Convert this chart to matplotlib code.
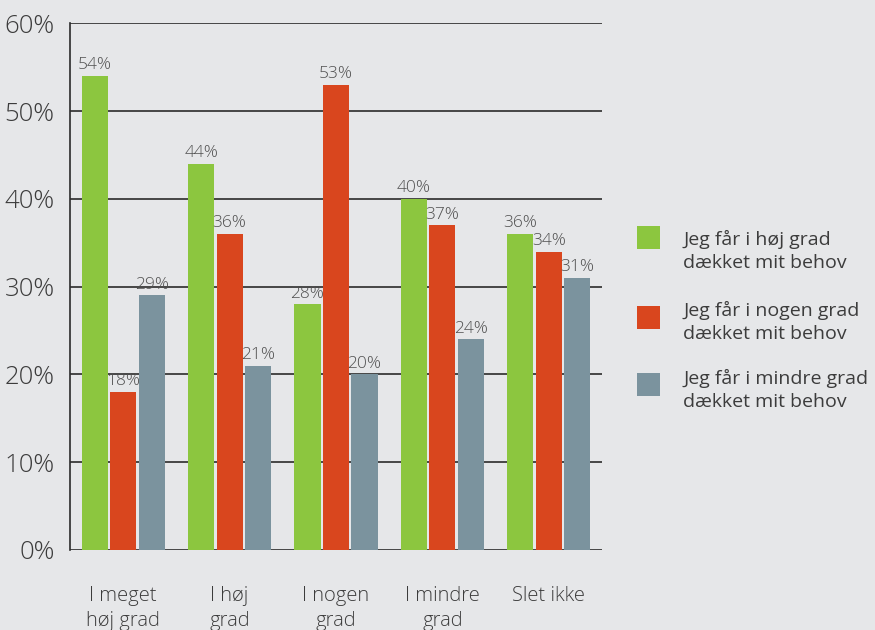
import numpy as np
import matplotlib
matplotlib.use("Agg")
import matplotlib.pyplot as plt
from matplotlib.patches import Rectangle

categories = ["I meget\nhøj grad", "I høj\ngrad", "I nogen\ngrad", "I mindre\ngrad", "Slet ikke"]
series_names = ["Jeg får i høj grad\ndækket mit behov",
                "Jeg får i nogen grad\ndækket mit behov",
                "Jeg får i mindre grad\ndækket mit behov"]
hoj = [54, 44, 28, 40, 36]
nogen = [18, 36, 53, 37, 34]
mindre = [29, 21, 20, 24, 31]
yticks = [0, 10, 20, 30, 40, 50, 60]

colors = ["#8cc63f", "#d9461e", "#7b939e"]
bg = "#e6e7e9"
txt = "#3c3c3c"

plt.rcParams['font.family'] = ['Open Sans', 'DejaVu Sans']

W, H = 875, 630
fig = plt.figure(figsize=(8.75, 6.3), dpi=100, facecolor=bg)
ax = fig.add_axes([0.080, 0.127, 0.608, 0.836], facecolor=bg)

x = np.arange(len(categories))
w = 0.245
step = 0.268
for i, (vals, c) in enumerate(zip([hoj, nogen, mindre], colors)):
    pos = x + (i - 1) * step
    ax.bar(pos, vals, width=w, color=c, zorder=3)
    for p, v in zip(pos, vals):
        ax.text(p, v + 0.3, "%d%%" % v, ha="center", va="bottom",
                fontsize=12.5, color="#505050", fontweight="light", zorder=4)

ax.set_xlim(-0.5, 4.5)
ax.set_ylim(0, 60)
ax.set_yticks(yticks)
ax.set_yticklabels(["%d%%" % t for t in yticks], fontsize=18.5, color=txt, fontweight="light")
ax.set_xticks(x)
ax.set_xticklabels(categories, fontsize=14.5, color=txt, fontweight="light", linespacing=1.3)
ax.tick_params(axis="y", length=0, pad=11)
ax.tick_params(axis="x", length=0, pad=26)
ax.grid(axis="y", color="#2b2b2b", linewidth=1.2, zorder=1)
for s in ["top", "right", "bottom"]:
    ax.spines[s].set_visible(False)
ax.spines["left"].set_color("#2b2b2b")
ax.spines["left"].set_linewidth(1.2)

# legend drawn by hand: square next to the first text line
sq_top = [226, 306, 373]
txt_top = [230, 301, 369]
for c, name, sy, ty in zip(colors, series_names, sq_top, txt_top):
    fig.add_artist(Rectangle((637 / W, 1 - (sy + 23) / H), 23 / W, 23 / H,
                             transform=fig.transFigure, facecolor=c, edgecolor="none"))
    fig.text(683 / W, 1 - ty / H, name, ha="left", va="top", fontsize=14,
             color=txt, linespacing=1.35)

fig.savefig("out.png", dpi=100, facecolor=bg)
